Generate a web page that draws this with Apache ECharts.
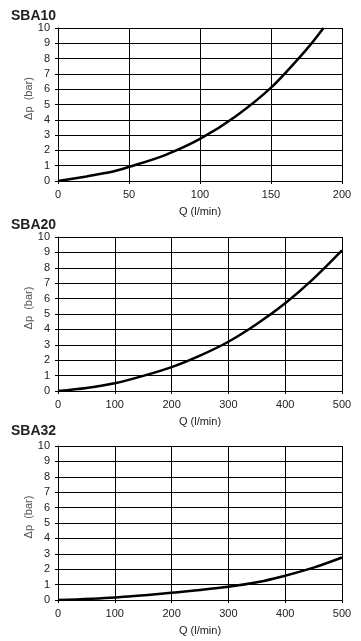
<!DOCTYPE html>
<html><head><meta charset="utf-8">
<script src="https://cdn.jsdelivr.net/npm/echarts@6/dist/echarts.min.js"></script>
<style>html,body{margin:0;padding:0;background:#fff}#c{width:361px;height:641px}</style>
</head><body><div id="c"></div>
<script>
var titles = ['SBA10', 'SBA20', 'SBA32'];
var xMax = [200, 500, 500];
var xInterval = [50, 100, 100];
var q10 = [0, 20, 38, 50, 75, 100, 125, 150, 175, 187];
var dp10 = [0, 0.3, 0.6, 0.92, 1.68, 2.75, 4.22, 6.1, 8.6, 10];
var q20 = [0, 50, 100, 150, 200, 250, 300, 350, 400, 450, 500];
var dp20 = [0, 0.2, 0.5, 0.98, 1.55, 2.3, 3.2, 4.35, 5.7, 7.3, 9.13];
var q32 = [0, 100, 200, 250, 300, 350, 400, 450, 500];
var dp32 = [0, 0.17, 0.47, 0.65, 0.86, 1.15, 1.58, 2.1, 2.76];
var xName = 'Q (l/min)';
var yName = 'Δp  (bar)';

var qs = [q10, q20, q32], dps = [dp10, dp20, dp32];
var gridTops = [28, 237, 446];
var gridHeights = [153, 154, 154];
var titleTops = [4, 213, 419];
var font = 'Liberation Sans, Arial, sans-serif';

var option = {animation:false, title:[], grid:[], xAxis:[], yAxis:[], series:[]};
for (var i = 0; i < 3; i++) {
  option.title.push({text: titles[i], left: 6, top: titleTops[i],
    textStyle:{fontFamily:font, fontSize:14, fontWeight:'bold', color:'#222'}});
  option.grid.push({left:58, width:284, top:gridTops[i], height:gridHeights[i]});
  option.xAxis.push({type:'value', gridIndex:i, min:0, max:xMax[i], interval:xInterval[i],
    name:xName, nameLocation:'middle', nameGap:25, nameMoveOverlap:false,
    nameTextStyle:{fontFamily:font, fontSize:11, color:'#222'},
    axisLine:{show:true, lineStyle:{color:'#000', width:1}},
    axisTick:{show:true, length:3, lineStyle:{color:'#000'}},
    axisLabel:{fontFamily:font, fontSize:11, color:'#222', margin:8},
    splitLine:{show:true, lineStyle:{color:'#000', width:1}}});
  option.yAxis.push({type:'value', gridIndex:i, min:0, max:10, interval:1,
    name:yName, nameLocation:'middle', nameGap:24, nameMoveOverlap:false,
    nameTextStyle:{fontFamily:font, fontSize:11, color:'#555', padding:[0,0,0,12]},
    axisLine:{show:true, lineStyle:{color:'#000', width:1}},
    axisTick:{show:true, length:3, lineStyle:{color:'#000'}},
    axisLabel:{fontFamily:font, fontSize:11, color:'#222', margin:8},
    splitLine:{show:true, lineStyle:{color:'#000', width:1}}});
  var d = qs[i].map(function(q, k){ return [q, dps[i][k]]; });
  option.series.push({type:'line', xAxisIndex:i, yAxisIndex:i, data:d, smooth:0.3,
    showSymbol:false, lineStyle:{color:'#000', width:2.5}});
}
var chart = echarts.init(document.getElementById('c'), null, {renderer:'canvas'});
chart.setOption(option);
</script></body></html>
